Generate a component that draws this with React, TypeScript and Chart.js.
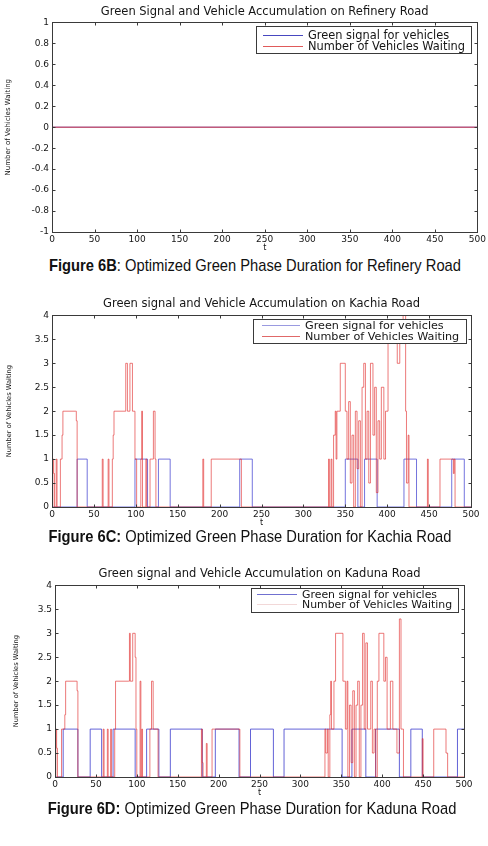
import { useEffect, useRef } from "react";
import { Chart, registerables } from "chart.js";

Chart.register(...registerables);

// ---- Refinery Road: no queue and no green phase over the whole run ----
const refineryGreenT = [0, 500];
const refineryGreen = [0, 0];
const refineryQueueT = [0, 500];
const refineryQueue = [0, 0];

// ---- Kachia Road ----
const kachiaGreenT = [0, 30, 42, 99, 114, 127, 141, 224, 239, 350, 365, 373, 388, 420, 435, 477, 492, 500];
const kachiaGreen = [0, 1, 0, 1, 0, 1, 0, 1, 0, 1, 0, 1, 0, 1, 0, 1, 0, 0];
const kachiaQueueT = [
  0, 1, 2, 3, 5, 6, 10, 12, 13, 28, 29, 30, 60, 61, 67, 68, 72, 73, 74, 88, 90, 93, 96, 99, 101,
  106, 107, 108, 112, 113, 117, 121, 123, 124, 180, 181, 190, 226, 330, 331, 333, 334, 336, 338,
  339, 340, 344, 350, 352, 354, 356, 358, 360, 362, 364, 366, 368, 370, 372, 374, 376, 378, 380,
  383, 385, 387, 389, 391, 393, 396, 398, 401, 410, 412, 415, 419, 422, 423, 425, 426, 448, 449,
  463, 479, 480, 481, 500,
];
const kachiaQueue = [
  0, 1, 0.7, 0, 1, 0, 1, 1.5, 2, 2, 1.8, 0, 1, 0, 1, 0, 1, 1.5, 2, 3, 2, 3, 2, 1, 0,
  1, 2, 0, 1, 0, 1, 2, 1, 0, 1, 0, 1, 0, 1, 0, 1, 0, 1.5, 2,
  1, 2, 3, 2, 1, 2.2, 0.5, 1.5, 0, 2, 0.8, 1.8, 0, 2.5, 3, 1, 2, 0.5, 3,
  1.5, 2.5, 0.3, 1.8, 1, 2.5, 1, 2, 3.5, 3.5, 3, 3.5, 4, 2, 0.5, 1.5, 0, 1, 0,
  1, 0.7, 1, 0, 0,
];

// ---- Kaduna Road ----
const kadunaGreenT = [0, 10, 28, 43, 57, 71, 98, 112, 127, 141, 180, 196, 225, 239, 267, 280, 351, 363, 380, 392, 421, 435, 449, 492, 500];
const kadunaGreen = [0, 1, 0, 1, 0, 1, 0, 1, 0, 1, 0, 1, 0, 1, 0, 1, 0, 1, 0, 1, 0, 1, 0, 1, 1];
const kadunaQueueT = [
  0, 1, 2, 3, 8, 12, 13, 26, 27, 28, 59, 60, 64, 65, 68, 69, 73, 74, 90, 91, 92, 95, 98, 99, 100,
  104, 105, 106, 107, 116, 118, 120, 126, 179, 180, 181, 185, 186, 192, 226, 330, 331, 333, 334,
  336, 337, 338, 341, 343, 352, 355, 357, 358, 360, 362, 364, 366, 368, 370, 372, 374, 376, 378,
  380, 382, 386, 388, 390, 392, 394, 396, 402, 404, 406, 410, 413, 418, 421, 423, 426, 449, 450,
  463, 478, 480, 500,
];
const kadunaQueue = [
  0, 1, 0.6, 0, 1, 1.3, 2, 2, 1.8, 0, 1, 0, 1, 0, 1, 0, 1, 2, 2, 3, 2, 3, 2.5, 1, 0,
  2, 0, 1, 0, 1, 2, 1, 0, 1, 0.3, 0, 0.7, 0, 1, 0, 1, 0.5, 1, 0,
  1.3, 2, 1, 2, 3, 2, 1, 2, 0, 1.5, 0.3, 1.8, 0, 1.5, 2, 0, 1.5, 3, 1,
  2.8, 1, 2, 0.5, 1, 0, 2, 3, 2, 2.5, 1, 2, 1, 0.5, 3.3, 1, 0, 0.8, 0,
  1, 0.5, 0, 0,
];

const greenLabel = "Green signal for vehicles";
const queueLabel = "Number of Vehicles Waiting";
const yLabel = "Number of Vehicles Waiting";

const FONT = '"DejaVu Sans", sans-serif';

function toPoints(t: number[], v: number[]) {
  return t.map((x, i) => ({ x, y: v[i] }));
}

// Box around the axes with short inward tick marks on all four sides
const axesFrame = {
  id: "axesFrame",
  afterDatasetsDraw(chart: any) {
    const { ctx, chartArea: a, scales } = chart;
    const L = Math.round(a.left) + 0.5;
    const R = Math.round(a.right) + 0.5;
    const T = Math.round(a.top) + 0.5;
    const B = Math.round(a.bottom) + 0.5;
    ctx.save();
    ctx.strokeStyle = "#3a3a3a";
    ctx.lineWidth = 1;
    ctx.beginPath();
    scales.x.ticks.forEach((tk: any) => {
      const px = Math.round(scales.x.getPixelForValue(tk.value)) + 0.5;
      ctx.moveTo(px, B);
      ctx.lineTo(px, B - 3);
      ctx.moveTo(px, T);
      ctx.lineTo(px, T + 3);
    });
    scales.y.ticks.forEach((tk: any) => {
      const py = Math.round(scales.y.getPixelForValue(tk.value)) + 0.5;
      ctx.moveTo(L, py);
      ctx.lineTo(L + 3, py);
      ctx.moveTo(R, py);
      ctx.lineTo(R - 3, py);
    });
    ctx.stroke();
    ctx.strokeRect(L, T, R - L, B - T);
    ctx.restore();
  },
};

type LegendStyle = {
  dx: number;
  dy: number;
  w: number;
  h: number;
  row1: number;
  row2: number;
  lineX0: number;
  lineX1: number;
  textX: number;
  fontSize: number;
  color1: string;
  color2: string;
};

// Boxed legend in the upper-right corner of the axes
function makeBoxLegend(o: LegendStyle) {
  return {
    id: "boxLegend",
    afterDraw(chart: any) {
      const { ctx, chartArea: a } = chart;
      const bx = Math.round(a.right + o.dx);
      const by = Math.round(a.top + o.dy);
      const rows = [o.row1, o.row2];
      const colors = [o.color1, o.color2];
      ctx.save();
      ctx.fillStyle = "#ffffff";
      ctx.fillRect(bx, by, o.w, o.h);
      ctx.lineWidth = 1;
      ctx.strokeStyle = "#3a3a3a";
      ctx.strokeRect(bx + 0.5, by + 0.5, o.w, o.h);
      ctx.font = `${o.fontSize}px ${FONT}`;
      ctx.textBaseline = "middle";
      ctx.textAlign = "left";
      chart.data.datasets.forEach((ds: any, i: number) => {
        const ry = Math.round(by + rows[i]);
        ctx.fillStyle = colors[i];
        ctx.fillRect(bx + o.lineX0, ry, o.lineX1 - o.lineX0, 1);
        ctx.fillStyle = "#151515";
        ctx.fillText(ds.label, bx + o.textX, ry + 1);
      });
      ctx.restore();
    },
  };
}

type PanelProps = {
  top: number;
  height: number;
  title: string;
  greenT: number[];
  green: number[];
  queueT: number[];
  queue: number[];
  yMin: number;
  yMax: number;
  yStep: number;
  yAxisWidth: number;
  padRight: number;
  titlePad: [number, number];
  xAxisHeight: number;
  tPad: number;
  yTitleSize: number;
  yTitlePad: number;
  legend: LegendStyle;
  greenColor: string;
  queueColor: string;
};

function Panel(p: PanelProps) {
  const ref = useRef<HTMLCanvasElement>(null);
  useEffect(() => {
    if (!ref.current) return;
    const chart = new Chart(ref.current, {
      type: "line",
      data: {
        datasets: [
          {
            label: greenLabel,
            data: toPoints(p.greenT, p.green),
            stepped: true,
            borderColor: p.greenColor,
            borderWidth: 1,
            pointRadius: 0,
            fill: false,
            order: 2,
          },
          {
            label: queueLabel,
            data: toPoints(p.queueT, p.queue),
            stepped: true,
            borderColor: p.queueColor,
            borderWidth: 1,
            pointRadius: 0,
            fill: false,
            order: 1,
          },
        ],
      },
      options: {
        animation: false,
        responsive: false,
        events: [],
        layout: { padding: { left: 0, right: p.padRight, top: 0, bottom: 0 } },
        plugins: {
          legend: { display: false },
          tooltip: { enabled: false },
          title: {
            display: true,
            text: p.title,
            fullSize: false,
            color: "#151515",
            font: { family: FONT, size: 11.5, weight: "normal" },
            padding: { top: p.titlePad[0], bottom: p.titlePad[1] },
          },
        },
        scales: {
          x: {
            type: "linear",
            min: 0,
            max: 500,
            grid: { display: false, drawTicks: false },
            border: { display: false },
            ticks: {
              stepSize: 50,
              autoSkip: false,
              maxRotation: 0,
              padding: 2,
              color: "#151515",
              font: { family: FONT, size: 9 },
            },
            title: {
              display: true,
              text: "t",
              color: "#151515",
              font: { family: FONT, size: 8 },
              padding: { top: 0, bottom: p.tPad },
            },
            afterFit: (s: any) => {
              s.height = p.xAxisHeight;
            },
          },
          y: {
            type: "linear",
            min: p.yMin,
            max: p.yMax,
            grid: { display: false, drawTicks: false },
            border: { display: false },
            ticks: {
              stepSize: p.yStep,
              padding: 3,
              color: "#151515",
              font: { family: FONT, size: 9 },
              callback: (v: any) => String(Math.round(Number(v) * 10) / 10),
            },
            title: {
              display: true,
              text: yLabel,
              color: "#151515",
              font: { family: FONT, size: p.yTitleSize },
              padding: { top: p.yTitlePad, bottom: 0 },
            },
            afterFit: (s: any) => {
              s.width = p.yAxisWidth;
            },
          },
        },
      },
      plugins: [axesFrame, makeBoxLegend(p.legend)],
    } as any);
    return () => chart.destroy();
  }, []);
  return (
    <div style={{ position: "absolute", left: 0, top: p.top, width: 488, height: p.height }}>
      <canvas ref={ref} width={488} height={p.height} style={{ display: "block", width: 488, height: p.height }} />
    </div>
  );
}

function Caption(props: { top: number; cx: number; bold: string; rest: string }) {
  return (
    <div
      style={{
        position: "absolute",
        top: props.top,
        left: props.cx - 300,
        width: 600,
        textAlign: "center",
        whiteSpace: "nowrap",
        fontFamily: '"Liberation Sans", Arial, sans-serif',
        fontSize: 17,
        lineHeight: "20px",
        color: "#111",
        transform: "scaleX(0.865)",
        transformOrigin: "50% 50%",
      }}
    >
      <b>{props.bold}</b>
      {props.rest}
    </div>
  );
}

export default function App() {
  return (
    <div style={{ position: "absolute", left: 0, top: 0, width: 488, height: 846, background: "#fff", overflow: "hidden" }}>
      <Panel
        top={0}
        height={256}
        title="Green Signal and Vehicle Accumulation on Refinery Road"
        greenT={refineryGreenT}
        green={refineryGreen}
        queueT={refineryQueueT}
        queue={refineryQueue}
        yMin={-1}
        yMax={1}
        yStep={0.2}
        yAxisWidth={52}
        padRight={9}
        titlePad={[5.3, 3.3]}
        xAxisHeight={24}
        tPad={3.2}
        yTitleSize={7}
        yTitlePad={3.8}
        greenColor="rgba(60, 60, 200, 0.85)"
        queueColor="rgba(225, 60, 60, 0.9)"
        legend={{ dx: -221, dy: 4, w: 215, h: 27, row1: 9, row2: 20, lineX0: 7, lineX1: 47, textX: 52, fontSize: 11.4, color1: "#4848c0", color2: "#e05a5a" }}
      />
      <Caption top={256} cx={254.5} bold="Figure 6B" rest=": Optimized Green Phase Duration for Refinery Road" />
      <Panel
        top={290}
        height={240}
        title="Green signal and Vehicle Accumulation on Kachia Road"
        greenT={kachiaGreenT}
        green={kachiaGreen}
        queueT={kachiaQueueT}
        queue={kachiaQueue}
        yMin={0}
        yMax={4}
        yStep={0.5}
        yAxisWidth={52}
        padRight={17}
        titlePad={[7.3, 4.3]}
        xAxisHeight={23}
        tPad={2.2}
        yTitleSize={6.7}
        yTitlePad={4.8}
        greenColor="rgba(70, 70, 210, 0.75)"
        queueColor="rgba(225, 40, 40, 0.62)"
        legend={{ dx: -218, dy: 4, w: 213, h: 24, row1: 6, row2: 17, lineX0: 9, lineX1: 47, textX: 52, fontSize: 11.2, color1: "#9a9ae0", color2: "#e06868" }}
      />
      <Caption top={527} cx={250} bold="Figure 6C:" rest=" Optimized Green Phase Duration for Kachia Road" />
      <Panel
        top={560}
        height={240}
        title="Green signal and Vehicle Accumulation on Kaduna Road"
        greenT={kadunaGreenT}
        green={kadunaGreen}
        queueT={kadunaQueueT}
        queue={kadunaQueue}
        yMin={0}
        yMax={4}
        yStep={0.5}
        yAxisWidth={55}
        padRight={24}
        titlePad={[7.3, 4.3]}
        xAxisHeight={23}
        tPad={2.2}
        yTitleSize={6.7}
        yTitlePad={11.8}
        greenColor="rgba(60, 60, 205, 0.8)"
        queueColor="rgba(225, 40, 40, 0.62)"
        legend={{ dx: -213, dy: 3, w: 207, h: 24, row1: 6, row2: 16, lineX0: 6, lineX1: 46, textX: 51, fontSize: 10.9, color1: "#7070d0", color2: "#f2d8d8" }}
      />
      <Caption top={799} cx={252} bold="Figure 6D:" rest=" Optimized Green Phase Duration for Kaduna Road" />
    </div>
  );
}
